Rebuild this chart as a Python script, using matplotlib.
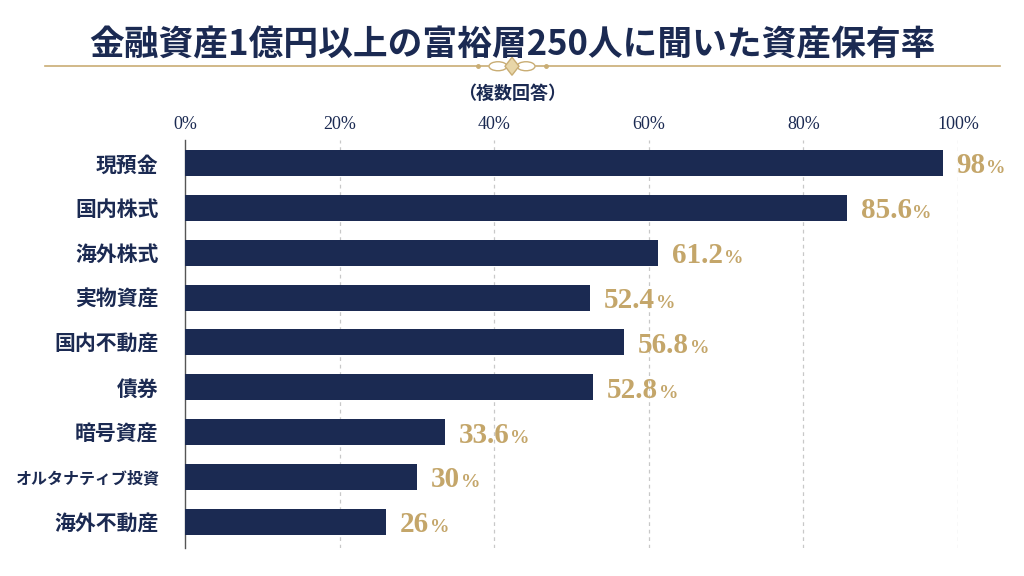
import matplotlib
matplotlib.use('Agg')
import matplotlib.pyplot as plt
from matplotlib.patches import Ellipse, Polygon
import numpy as np

plt.rcParams['font.family'] = ['Noto Sans CJK JP', 'DejaVu Sans']

NAVY = '#1b2a52'
GOLD = '#c4a66a'
LINE_GOLD = '#c9ad74'

categories = ['現預金', '国内株式', '海外株式', '実物資産', '国内不動産',
              '債券', '暗号資産', 'オルタナティブ投資', '海外不動産']
values = [98, 85.6, 61.2, 52.4, 56.8, 52.8, 33.6, 30, 26]
value_labels = ['98', '85.6', '61.2', '52.4', '56.8', '52.8', '33.6', '30', '26']
ticks = [0, 20, 40, 60, 80, 100]
tick_labels = ['0%', '20%', '40%', '60%', '80%', '100%']

fig = plt.figure(figsize=(10.24, 5.76), dpi=100)
fig.patch.set_facecolor('white')

# title block
fig.text(0.5, 0.922, '金融資産1億円以上の富裕層250人に聞いた資産保有率',
         ha='center', va='center', fontsize=25, fontweight='bold', color=NAVY)

# gold rule with ornament
orn = fig.add_axes([0, 0.86, 1, 0.05])
orn.set_xlim(0, 1024)
orn.set_ylim(-8, 8)
orn.axis('off')
orn.plot([45, 488], [0, 0], color=LINE_GOLD, lw=1.2)
orn.plot([536, 1000], [0, 0], color=LINE_GOLD, lw=1.2)
for cx in (498, 526):
    orn.add_patch(Ellipse((cx, 0), 18, 5, fill=False, ec=LINE_GOLD, lw=1))
orn.add_patch(Polygon([[512, 5], [519, 0], [512, -5], [505, 0]],
                      closed=True, fc='#e8d6a8', ec=LINE_GOLD, lw=1))
orn.plot([478, 546], [0, 0], 'o', color=LINE_GOLD, ms=2.5)

fig.text(0.5, 0.838, '（複数回答）', ha='center', va='center',
         fontsize=13, fontweight='bold', color=NAVY)

# main chart
ax = fig.add_axes([185 / 1024, 1 - 548 / 576, (958 - 185) / 1024, (548 - 140) / 576])
y = np.arange(len(categories))
ax.barh(y, values, height=0.58, color=NAVY, zorder=3)
ax.set_xlim(0, 100)
ax.set_ylim(8.58, -0.51)

ax.xaxis.tick_top()
ax.set_xticks(ticks)
ax.set_xticklabels(tick_labels, family='Liberation Serif', fontsize=13, color=NAVY)
ax.tick_params(axis='x', length=0, pad=5)
ax.tick_params(axis='y', length=0, pad=19)
ax.set_yticks(y)
ax.set_yticklabels(categories, fontsize=15, fontweight='bold', color=NAVY)
for lab in ax.get_yticklabels():
    if len(lab.get_text()) > 6:
        lab.set_fontsize(11.5)

for t in ticks[1:]:
    ax.axvline(t, color='#c8c8c8', lw=0.9, ls=(0, (3, 3)), zorder=1)

for s in ['top', 'right', 'bottom']:
    ax.spines[s].set_visible(False)
ax.spines['left'].set_color('#555555')
ax.spines['left'].set_linewidth(1)

fig.canvas.draw()
renderer = fig.canvas.get_renderer()
for yi, v, lbl in zip(y, values, value_labels):
    t = ax.annotate(lbl, (v, yi), xytext=(10, -7.5), textcoords='offset points',
                    ha='left', va='baseline', fontsize=21, fontweight='bold',
                    color=GOLD, family='Liberation Serif', annotation_clip=False)
    bb = t.get_window_extent(renderer)
    x1, _ = ax.transData.inverted().transform((bb.x1, bb.y0))
    ax.annotate('%', (x1, yi), xytext=(0.5, -7.5), textcoords='offset points',
                ha='left', va='baseline', fontsize=14, fontweight='bold',
                color=GOLD, family='Liberation Serif', annotation_clip=False)

fig.savefig('out.png', dpi=100, facecolor='white')
